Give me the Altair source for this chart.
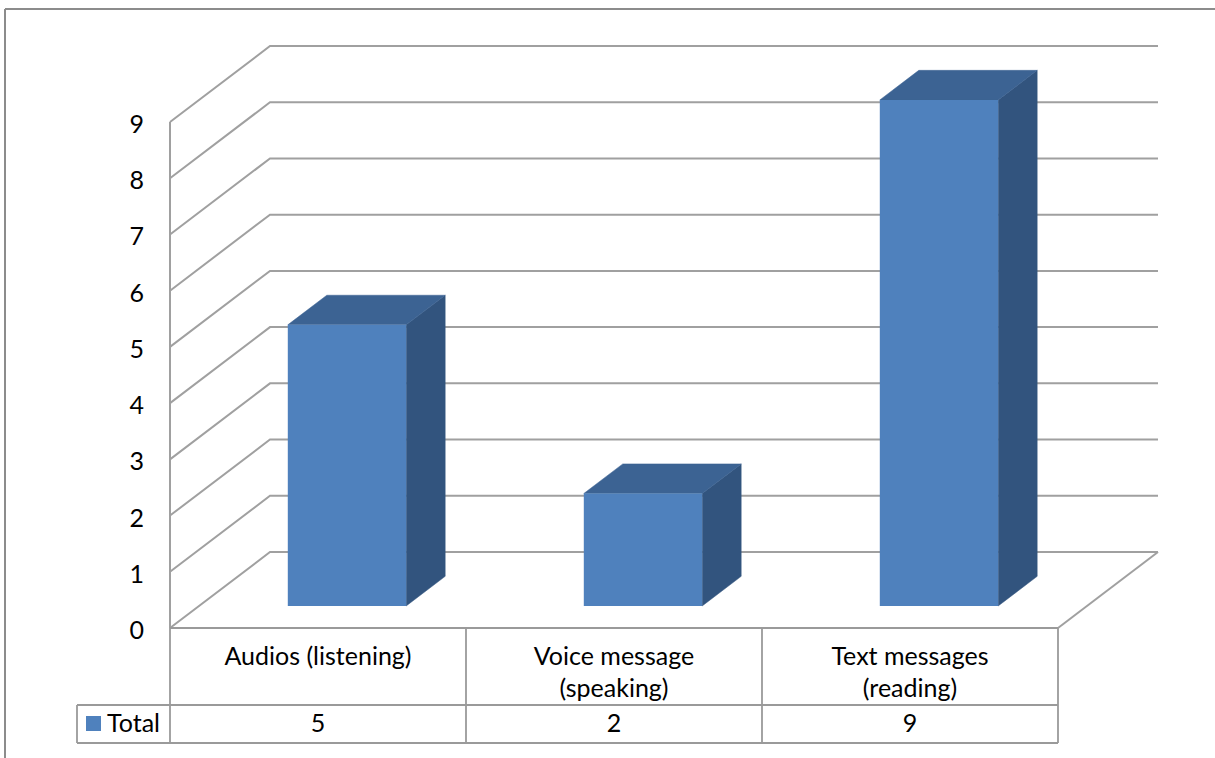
import altair as alt
import pandas as pd

# ---- data -------------------------------------------------------------
categories = ["Audios (listening)", "Voice message\n(speaking)", "Text messages\n(reading)"]
totals = [5, 2, 9]
series_name = "Total"
y_ticks = [0, 1, 2, 3, 4, 5, 6, 7, 8, 9]

# ---- layout (pixels) --------------------------------------------------
W, H = 1215, 758
X0, SLOT = 170, 296        # front-plane x of the first category edge, px per category
Y0, UNIT = 628, 56.22      # front-plane y of value 0, px per value unit

def sx(px):
    return (px - X0) / SLOT

def sy(py):
    return (Y0 - py) / UNIT

x_scale = alt.Scale(domain=[sx(0), sx(W)], nice=False, zero=False)
y_scale = alt.Scale(domain=[sy(H), sy(0)], nice=False, zero=False)

DX, DY = 100 / SLOT, 76 / UNIT      # depth of the floor / side wall
BAR_D0, BAR_D = 0.29, 0.39          # bar front position and thickness (fraction of depth)
BAR_HALF = 0.2                      # half bar width, in categories
N = len(categories)

GRID = "#A0A0A0"
FRONT, TOP, SIDE = "#4F81BD", "#3C6393", "#32547E"
FONT, FS = "Lato", 25


def X(f="x"):
    return alt.X(f"{f}:Q", scale=x_scale, axis=None)


def Y(f="y"):
    return alt.Y(f"{f}:Q", scale=y_scale, axis=None)


# ---- walls and gridlines ----------------------------------------------
grid_rows = []
for t in y_ticks:
    for k, (gx, gy) in enumerate([(0, t), (DX, t + DY), (N + DX, t + DY)]):
        grid_rows.append({"tick": t, "k": k, "x": gx, "y": gy})
grid = alt.Chart(pd.DataFrame(grid_rows)).mark_line(color=GRID, strokeWidth=2).encode(
    x=X(), y=Y(), detail="tick:N", order="k:Q"
)

edges = pd.DataFrame([
    {"x": 0, "y": 0, "x2": 0, "y2": max(y_ticks)},          # value axis
    {"x": N, "y": 0, "x2": N + DX, "y2": DY},                # floor right edge
])
edge_rules = alt.Chart(edges).mark_rule(color=GRID, strokeWidth=2).encode(
    x=X(), y=Y(), x2="x2:Q", y2="y2:Q"
)

# ---- 3D bars -----------------------------------------------------------
front_rows, top_rows, side_rows = [], [], []
for i, (c, v) in enumerate(zip(categories, totals)):
    left = i + 0.5 - BAR_HALF + BAR_D0 * DX
    right = i + 0.5 + BAR_HALF + BAR_D0 * DX
    base = BAR_D0 * DY
    front_rows.append({"cat": c, "x": left, "x2": right, "y": base, "y2": v + base})
    for f in (0, 1):
        ox, oy = f * BAR_D * DX, f * BAR_D * DY
        top_rows.append({"cat": c, "y": v + base + oy, "x": left + ox, "x2": right + ox})
        side_rows.append({"cat": c, "x": right + ox, "y": base + oy, "y2": v + base + oy})

bar_side = alt.Chart(pd.DataFrame(side_rows)).mark_area(
    color=SIDE, orient="vertical", stroke=SIDE, strokeWidth=0.5
).encode(x=X(), y=Y(), y2="y2:Q", detail="cat:N")

bar_top = alt.Chart(pd.DataFrame(top_rows)).mark_area(
    color=TOP, orient="horizontal", stroke=TOP, strokeWidth=0.5
).encode(y=Y(), x=X(), x2="x2:Q", detail="cat:N")

bar_front = alt.Chart(pd.DataFrame(front_rows)).mark_rect(color=FRONT).encode(
    x=X(), x2="x2:Q", y=Y(), y2="y2:Q"
)

# ---- value axis labels -------------------------------------------------
tick_labels = alt.Chart(pd.DataFrame({"t": y_ticks, "x": [sx(144)] * len(y_ticks)})).mark_text(
    align="right", baseline="middle", dy=3, font=FONT, fontSize=FS, color="black"
).encode(x=X(), y=alt.Y("t:Q", scale=y_scale, axis=None), text="t:Q")

# ---- data table ----------------------------------------------------------
ROW1, ROW2 = sy(705), sy(743)
LEG = sx(77)
table_lines = [{"x": k, "y": 0, "x2": k, "y2": ROW2} for k in range(N + 1)]
table_lines += [
    {"x": 0, "y": 0, "x2": N, "y2": 0},
    {"x": LEG, "y": ROW1, "x2": N, "y2": ROW1},
    {"x": LEG, "y": ROW2, "x2": N, "y2": ROW2},
    {"x": LEG, "y": ROW1, "x2": LEG, "y2": ROW2},
]
table = alt.Chart(pd.DataFrame(table_lines)).mark_rule(color="#9A9A9A", strokeWidth=1.8).encode(
    x=X(), y=Y(), x2="x2:Q", y2="y2:Q"
)

cat_df = pd.DataFrame({"cat": categories, "x": [i + 0.5 for i in range(N)],
                       "y": [sy(665)] * N, "v": totals, "vy": [sy(732)] * N})
cat_text = alt.Chart(cat_df).mark_text(
    align="center", baseline="alphabetic", lineBreak="\n", lineHeight=32,
    font=FONT, fontSize=FS, color="black"
).encode(x=X(), y=Y(), text="cat:N")
val_text = alt.Chart(cat_df).mark_text(
    align="center", baseline="alphabetic", font=FONT, fontSize=FS, color="black"
).encode(x=X(), y=Y("vy"), text="v:Q")

legend_df = pd.DataFrame([{"name": series_name, "x": sx(86), "x2": sx(101),
                           "y": sy(731), "y2": sy(716), "tx": sx(107), "ty": sy(732)}])
legend_key = alt.Chart(legend_df).mark_rect(color=FRONT).encode(
    x=X(), x2="x2:Q", y=Y(), y2="y2:Q"
)
legend_text = alt.Chart(legend_df).mark_text(
    align="left", baseline="alphabetic", font=FONT, fontSize=FS, color="black"
).encode(x=X("tx"), y=Y("ty"), text="name:N")

# ---- chart frame --------------------------------------------------------
frame = alt.Chart(pd.DataFrame([
    {"x": sx(5), "y": sy(9), "x2": sx(W), "y2": sy(9)},
    {"x": sx(5), "y": sy(9), "x2": sx(5), "y2": sy(H)},
])).mark_rule(color="#8C8C8C", strokeWidth=2).encode(x=X(), y=Y(), x2="x2:Q", y2="y2:Q")

chart = alt.layer(
    frame, grid, edge_rules, bar_side, bar_top, bar_front, tick_labels,
    table, cat_text, val_text, legend_key, legend_text
).properties(
    width=W, height=H, padding=0, autosize=alt.AutoSizeParams(type="none"),
    background="white"
).configure_view(stroke=None)

chart.save("out.html", embed_options={"renderer": "svg", "actions": False})
